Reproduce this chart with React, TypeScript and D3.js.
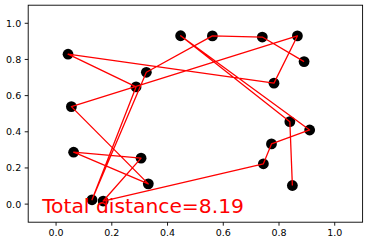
import React from "react";
import * as d3 from "d3";

// Tour order (open path), coordinates
const pathX = [0.890, 0.740, 0.561, 0.324, 0.129, 0.287, 0.043, 0.782, 0.866, 0.055, 0.331, 0.063, 0.305, 0.169, 0.744, 0.773, 0.910, 0.447, 0.839, 0.848];
const pathY = [0.788, 0.924, 0.930, 0.729, 0.024, 0.648, 0.829, 0.669, 0.930, 0.539, 0.112, 0.287, 0.254, 0.017, 0.223, 0.333, 0.410, 0.931, 0.456, 0.103];
const xTicks = [0.0, 0.2, 0.4, 0.6, 0.8, 1.0];
const yTicks = [0.0, 0.2, 0.4, 0.6, 0.8, 1.0];
const xDomain = [-0.1, 1.1];
const yDomain = [-0.1, 1.1];
const label = "Total distance=8.19";
const labelPos = [-0.05, -0.05];

const W = 373, H = 243;
const L = 28.2, R = 362.6, T = 5.2, B = 222.2;

export default function App() {
  const x = d3.scaleLinear().domain(xDomain).range([L, R]);
  const y = d3.scaleLinear().domain(yDomain).range([B, T]);
  const pts: [number, number][] = pathX.map((v, i) => [v, pathY[i]]);
  const line = d3.line<[number, number]>().x(d => x(d[0])).y(d => y(d[1]));
  const font = "'DejaVu Sans', sans-serif";
  return (
    <svg width={W} height={H} style={{ position: "absolute", left: 0, top: 0, background: "#fff" }}>
      <rect x={0} y={0} width={W} height={H} fill="#fff" />
      {pts.map((p, i) => (
        <circle key={i} cx={x(p[0])} cy={y(p[1])} r={5.4} fill="#000" />
      ))}
      <path d={line(pts) || ""} fill="none" stroke="#ff0000" strokeWidth={1.3} strokeLinejoin="round" />
      <text x={x(labelPos[0])} y={y(labelPos[1]) - 0.5} fill="#ff0000" fontFamily={font} fontSize={20.3}>{label}</text>
      <rect x={L} y={T} width={R - L} height={B - T} fill="none" stroke="#000" strokeWidth={0.9} />
      {xTicks.map(t => (
        <g key={"x" + t}>
          <line x1={x(t)} x2={x(t)} y1={B} y2={B + 3.5} stroke="#000" strokeWidth={0.9} />
          <text x={x(t)} y={B + 14.2} textAnchor="middle" fontFamily={font} fontSize={9.5} fill="#000">{t.toFixed(1)}</text>
        </g>
      ))}
      {yTicks.map(t => (
        <g key={"y" + t}>
          <line x1={L - 3.5} x2={L} y1={y(t)} y2={y(t)} stroke="#000" strokeWidth={0.9} />
          <text x={L - 7} y={y(t) + 3.4} textAnchor="end" fontFamily={font} fontSize={9.5} fill="#000">{t.toFixed(1)}</text>
        </g>
      ))}
    </svg>
  );
}
